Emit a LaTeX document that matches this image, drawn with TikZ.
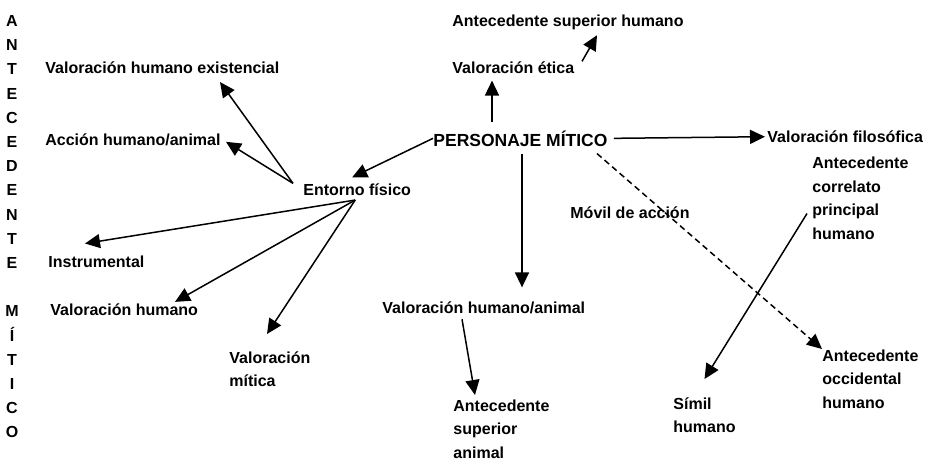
\documentclass[tikz,border=0pt]{standalone}
\usepackage{fontspec}
\setmainfont{Liberation Sans}
\usepackage{tikz}
\usetikzlibrary{arrows.meta}

\begin{document}
\begin{tikzpicture}[x=1pt, y=-1pt, thick, font=\fontsize{16}{23.5}\selectfont\bfseries]
    \tikzstyle{txt} = [inner sep=0pt, anchor=base west]
    \tikzstyle{multi} = [inner sep=0pt, anchor=north west, align=left]
    \tikzstyle{line} = [draw, line width=1.5pt, -{Triangle[length=15pt,width=14pt]}]
    \useasboundingbox (0,0) rectangle (925,460);

    % vertical title on the left
    \foreach \ch/\row in {A/0,N/1,T/2,E/3,C/4,E/5,D/6,E/7,N/8,T/9,E/10,M/12,Í/13,T/14,I/15,C/16,O/17}
        \node [inner sep=0pt, anchor=base] (col\row) at (12, 26.5+24.2*\row) {\ch};

    \node [txt, font=\fontsize{17.5}{21}\selectfont\bfseries] (pm) at (433,146) {PERSONAJE MÍTICO};
    \node [txt] (vet) at (452,73.5) {Valoración ética};
    \node [txt] (ash) at (452,26.5) {Antecedente superior humano};
    \node [txt] (vf) at (767,142.5) {Valoración filosófica};
    \node [multi] (acph) at (812,157) {Antecedente\\correlato\\principal\\humano};
    \node [txt] (mov) at (570,218.5) {Móvil de acción};
    \node [txt] (vha) at (382,313.5) {Valoración humano/animal};
    \node [multi] (asa) at (453,399) {Antecedente\\superior\\animal};
    \node [multi] (aoh) at (822,349) {Antecedente\\occidental\\humano};
    \node [multi] (sim) at (673,397) {Símil\\humano};

    \node [txt] (ent) at (303,195.5) {Entorno físico};
    \node [txt] (vhe) at (45,73.5) {Valoración humano existencial};
    \node [txt] (acc) at (45,145.5) {Acción humano/animal};
    \node [txt] (ins) at (48,267.5) {Instrumental};
    \node [txt] (vh) at (50,315.5) {Valoración humano};
    \node [multi] (vm) at (229,351) {Valoración\\mítica};

    % from the central node
    \path [line] (pm.west) -- ([xshift=-5pt,yshift=6pt]ent.north);
    \path [line] ([xshift=59pt,yshift=8pt]pm.north west) -- ([xshift=40pt,yshift=-6.5pt]vet.south west);
    \path [line] ([xshift=130pt]vet.north west) -- ([xshift=145pt,yshift=-5pt]ash.south west);
    \path [line] ([xshift=6pt]pm.east) -- ([xshift=-2pt]vf.west);
    \path [line] ([xshift=89pt,yshift=-7pt]pm.south west) -- ([xshift=140pt,yshift=14pt]vha.north west);
    \path [line] ([xshift=80pt,yshift=-5pt]vha.south west) -- ([xshift=22pt,yshift=4pt]asa.north west);
    \path [line, dash pattern=on 6pt off 4pt] ([xshift=164pt,yshift=-7pt]pm.south west) -- (aoh.north west);
    \path [line] ([xshift=-5pt,yshift=-15pt]acph.west) -- ([yshift=18pt]sim.north);

    % from Entorno fisico
    \path [line] ([xshift=-10pt]ent.north west) -- ([xshift=175pt,yshift=-8pt]vhe.south west);
    \path [line] ([xshift=-10pt]ent.north west) -- ([xshift=5pt,yshift=-2pt]acc.east);
    \path [line] ([xshift=-2pt,yshift=-4pt]ent.south) -- ([xshift=37pt,yshift=12pt]ins.north west);
    \path [line] ([xshift=-2pt,yshift=-4pt]ent.south) -- ([xshift=125pt,yshift=1.5pt]vh.north west);
    \path [line] ([xshift=-2pt,yshift=-4pt]ent.south) -- ([xshift=38pt,yshift=17pt]vm.north west);
\end{tikzpicture}
\end{document}
